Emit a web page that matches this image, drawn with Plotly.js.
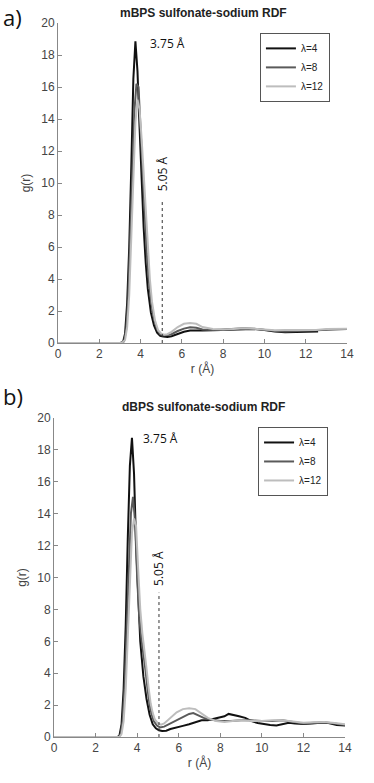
<!DOCTYPE html>
<html>
<head>
<meta charset="utf-8">
<script src="https://cdn.plot.ly/plotly-3.0.1.min.js"></script>
<style>
html,body{margin:0;padding:0;background:#fff}
#plot{width:374px;height:783px}
</style>
</head>
<body>
<div id="plot"></div>
<script>
// mBPS (panel a)
const mR4 = [0,3.0,3.15,3.25,3.35,3.45,3.55,3.65,3.75,3.85,3.95,4.05,4.15,4.25,4.35,4.5,4.65,4.8,4.95,5.1,5.3,5.5,5.8,6.1,6.4,6.7,7.0,7.5,8.0,8.5,9.0,9.5,10.0,10.5,11.0,11.5,12.0,12.6]
const mG4 = [0,0,0.05,0.6,2.5,6.0,11.0,16.5,18.85,17.0,13.5,10.0,7.2,5.0,3.4,1.9,1.1,0.65,0.45,0.4,0.38,0.42,0.55,0.7,0.78,0.8,0.78,0.8,0.82,0.85,0.9,0.88,0.82,0.72,0.68,0.68,0.68,0.72]

const mR8 = [0,3.05,3.2,3.3,3.4,3.5,3.6,3.7,3.8,3.9,4.0,4.1,4.2,4.3,4.4,4.5,4.65,4.8,4.95,5.1,5.3,5.5,5.8,6.1,6.4,6.7,7.0,7.5,8.0,8.5,9.0,9.5,10,10.5,11,11.5,12,12.5,13,13.5,14]
const mG8 = [0,0,0.1,0.8,2.8,6.2,10.5,14.5,16.2,16.0,13.5,10.5,7.8,5.6,3.9,2.7,1.5,0.85,0.55,0.48,0.5,0.55,0.75,0.9,0.98,0.95,0.85,0.82,0.85,0.88,0.92,0.9,0.82,0.75,0.72,0.75,0.78,0.78,0.85,0.88,0.88]

const mR12 = [0,3.1,3.25,3.35,3.45,3.55,3.65,3.75,3.85,3.95,4.05,4.15,4.25,4.35,4.45,4.55,4.7,4.85,5.0,5.15,5.3,5.5,5.8,6.1,6.4,6.7,7.0,7.5,8.0,8.5,9.0,9.5,10,10.5,11,11.5,12,12.5,13,13.5,14]
const mG12 = [0,0,0.2,1.0,3.0,6.5,10.5,13.8,15.2,14.6,12.8,10.5,8.2,6.0,4.0,2.6,1.4,0.8,0.58,0.52,0.55,0.7,1.0,1.2,1.25,1.2,1.0,0.88,0.85,0.88,0.92,0.9,0.85,0.8,0.82,0.82,0.8,0.82,0.88,0.9,0.9]

// dBPS (panel b)
const dR4 = [0,3.05,3.15,3.25,3.35,3.45,3.55,3.65,3.75,3.85,3.95,4.05,4.15,4.3,4.45,4.6,4.75,4.9,5.05,5.2,5.4,5.6,5.9,6.2,6.5,6.8,7.1,7.4,7.7,8.0,8.2,8.4,8.6,8.9,9.2,9.5,9.8,10.1,10.4,10.7,11.0,11.3,11.6,12.0,12.4,12.8,13.2,13.6,14]
const dG4 = [0,0,0.1,0.8,3.0,7.0,12.5,17.0,18.75,16.5,12.0,8.5,6.0,3.8,2.4,1.4,0.8,0.55,0.42,0.38,0.4,0.5,0.62,0.7,0.8,0.95,1.05,1.05,1.15,1.25,1.3,1.45,1.4,1.3,1.2,1.0,0.88,0.8,0.75,0.72,0.8,0.9,0.85,0.82,0.85,0.9,0.88,0.75,0.72]

const dR8 = [0,3.1,3.2,3.3,3.4,3.5,3.6,3.7,3.8,3.9,4.0,4.1,4.2,4.3,4.4,4.5,4.6,4.7,4.8,4.95,5.1,5.3,5.6,5.9,6.2,6.5,6.7,6.9,7.2,7.5,8.0,8.5,9.0,9.5,10,10.5,11,11.5,12,12.5,13,13.5,14]
const dG8 = [0,0,0.15,1.0,3.2,7.0,11.0,14.0,15.05,13.5,10.0,7.5,6.2,5.3,4.2,3.0,2.0,1.4,1.0,0.72,0.6,0.65,0.85,1.1,1.3,1.45,1.5,1.4,1.2,1.1,1.0,1.0,1.05,1.05,1.0,1.0,1.05,0.95,0.85,0.9,0.92,0.85,0.75]

const dR12 = [0,3.15,3.25,3.35,3.45,3.55,3.65,3.75,3.85,3.95,4.05,4.15,4.25,4.35,4.45,4.55,4.65,4.75,4.85,5.0,5.15,5.3,5.6,5.9,6.2,6.5,6.8,7.1,7.4,7.8,8.2,8.6,9.0,9.5,10,10.5,11,11.5,12,12.5,13,13.5,14]
const dG12 = [0,0,0.2,1.0,3.0,6.5,10.0,12.8,13.7,13.2,10.5,8.0,6.5,5.5,4.3,3.1,2.1,1.5,1.1,0.85,0.78,0.85,1.2,1.55,1.75,1.8,1.75,1.5,1.2,1.0,0.95,1.0,1.05,1.0,1.0,1.05,1.05,0.98,0.9,0.92,0.95,0.88,0.8]

const names = ["λ=4","λ=8","λ=12"]
const colors = ["#111111","#5a5a5a","#bdbdbd"]

function line(x,y,i,xa,ya,leg){
return {
x:x,y:y,type:"scatter",mode:"lines",
name:names[i],
line:{color:colors[i],width:2},
xaxis:xa,yaxis:ya,legend:leg
}
}

const traces=[
line(mR4,mG4,0,"x","y","legend"),
line(mR8,mG8,1,"x","y","legend"),
line(mR12,mG12,2,"x","y","legend"),
line(dR4,dG4,0,"x2","y2","legend2"),
line(dR8,dG8,1,"x2","y2","legend2"),
line(dR12,dG12,2,"x2","y2","legend2")
]

const tickFont={family:"Liberation Sans, Arial, sans-serif",size:12,color:"#444"}

function xax(dom,anchor){
return {
domain:dom,anchor:anchor,range:[0,14],dtick:2,
showline:true,linecolor:"#888",linewidth:1,
ticks:"inside",ticklen:4,tickcolor:"#888",
showgrid:false,zeroline:false,tickfont:tickFont,
title:{text:"r (Å)",font:tickFont,standoff:4}
}
}
function yax(dom,anchor){
return {
domain:dom,anchor:anchor,range:[0,20],dtick:2,
showline:true,linecolor:"#888",linewidth:1,
ticks:"inside",ticklen:4,tickcolor:"#888",
showgrid:false,zeroline:false,tickfont:tickFont,
title:{text:"g(r)",font:tickFont,standoff:8}
}
}

const legStyle={
bgcolor:"#fff",bordercolor:"#555",borderwidth:1,
font:{family:"Liberation Sans, Arial, sans-serif",size:10,color:"#222"},
xanchor:"left",yanchor:"top",tracegroupgap:0
}

const annFont={family:"Open Sans, sans-serif",size:12,color:"#111"}
const labFont={family:"Open Sans, sans-serif",size:22,color:"#111"}
const titFont={family:"Liberation Sans, Arial, sans-serif",size:12,color:"#222",weight:"bold"}

const layout={
width:374,height:783,
margin:{l:0,r:0,t:0,b:0},
paper_bgcolor:"#fff",plot_bgcolor:"#fff",
showlegend:true,
xaxis:xax([0.1551,0.9278],"y"),
yaxis:yax([0.5619,0.9706],"x"),
xaxis2:xax([0.1444,0.9225],"y2"),
yaxis2:yax([0.0587,0.4662],"x2"),
legend:Object.assign({x:0.695,y:0.958},legStyle),
legend2:Object.assign({x:0.69,y:0.4547},legStyle),
shapes:[
{type:"line",xref:"x",yref:"y",x0:5.05,x1:5.05,y0:0,y1:8.9,line:{color:"#333",width:1,dash:"dot"}},
{type:"line",xref:"x2",yref:"y2",x0:5.05,x1:5.05,y0:0,y1:9.05,line:{color:"#333",width:1,dash:"dot"}}
],
annotations:[
{xref:"paper",yref:"paper",x:0.004,y:0.978,xanchor:"left",yanchor:"middle",text:"a)",showarrow:false,font:labFont},
{xref:"paper",yref:"paper",x:0.004,y:0.4943,xanchor:"left",yanchor:"middle",text:"b)",showarrow:false,font:labFont},
{xref:"paper",yref:"paper",x:0.543,y:0.9834,xanchor:"center",yanchor:"middle",text:"<b>mBPS sulfonate-sodium RDF</b>",showarrow:false,font:titFont},
{xref:"paper",yref:"paper",x:0.545,y:0.4802,xanchor:"center",yanchor:"middle",text:"<b>dBPS sulfonate-sodium RDF</b>",showarrow:false,font:titFont},
{xref:"x",yref:"y",x:4.36,y:18.7,xanchor:"left",yanchor:"middle",text:"3.75 Å",showarrow:false,font:annFont},
{xref:"x2",yref:"y2",x:4.18,y:18.7,xanchor:"left",yanchor:"middle",text:"3.75 Å",showarrow:false,font:annFont},
{xref:"x",yref:"y",x:5.05,y:10.56,xanchor:"center",yanchor:"middle",text:"5.05 Å",textangle:-90,showarrow:false,font:annFont},
{xref:"x2",yref:"y2",x:5.05,y:10.6,xanchor:"center",yanchor:"middle",text:"5.05 Å",textangle:-90,showarrow:false,font:annFont}
]
}

Plotly.newPlot("plot",traces,layout,{displayModeBar:false,staticPlot:true})
</script>
</body>
</html>
